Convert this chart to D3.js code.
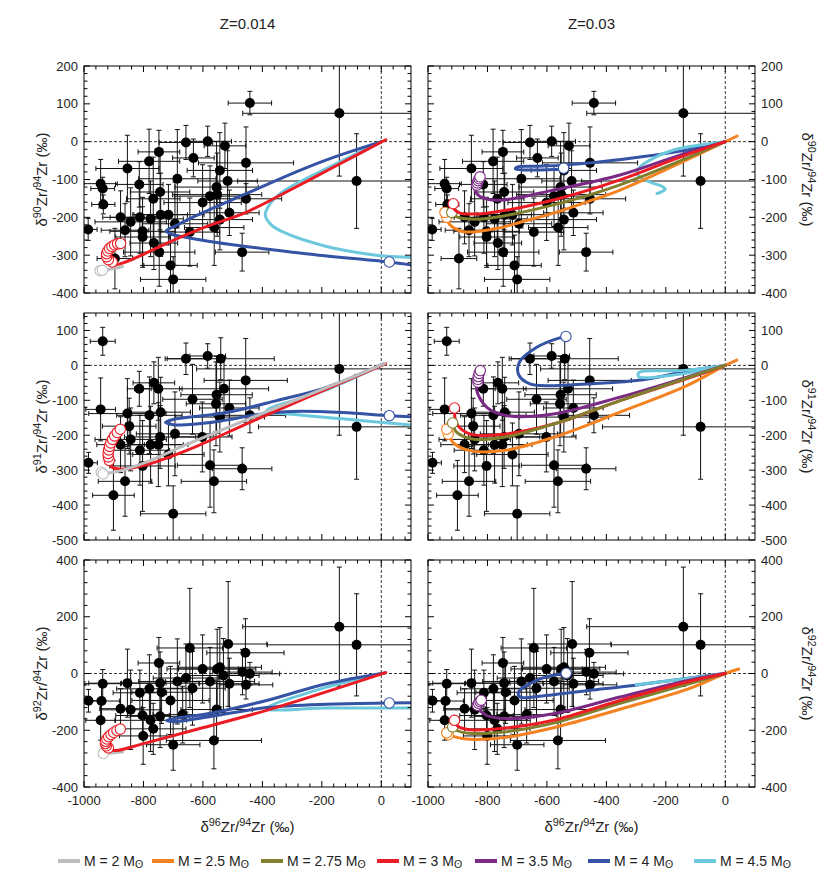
<!DOCTYPE html>
<html>
<head>
<meta charset="utf-8">
<script src="https://cdn.jsdelivr.net/npm/d3@7"></script>
<style>
  body { margin: 0; background: #fff; }
  text { font-family: 'Liberation Sans Narrow', 'Liberation Sans', Arial, sans-serif; fill: #222; }
</style>
</head>
<body>
<div id="chart"></div>
<script>
// ---------- axes ----------
const xDomain = [-1000, 100]
const xLabels = [-1000, -800, -600, -400, -200, 0]
const yDomains = [[-400, 200], [-500, 150], [-400, 400]]
const yLabels90 = [-400, -300, -200, -100, 0, 100, 200]
const yLabels91 = [-500, -400, -300, -200, -100, 0, 100]
const yLabels92 = [-400, -200, 0, 200, 400]
const titles = ['Z=0.014', 'Z=0.03']
const isotopes = ['90', '91', '92']

// ---------- grains: [x, xerr, y, yerr] ----------
const grains90 = [
  [-442, 73, 102, 31], [-141, 325, 75, 166], [-83, 400, -104, 125], [-986, 30, -232, 29],
  [-944, 56, -111, 64], [-937, 40, -124, 30], [-935, 39, -166, 25], [-854, 106, -71, 88],
  [-781, 103, -52, 85], [-748, 70, -27, 57], [-814, 80, -113, 60], [-767, 90, -151, 110],
  [-744, 100, -133, 100], [-877, 60, -200, 70], [-843, 120, -212, 90], [-812, 100, -200, 95],
  [-776, 110, -204, 100], [-742, 90, -193, 110], [-716, 120, -193, 80], [-862, 80, -234, 70],
  [-803, 110, -237, 90], [-803, 90, -252, 80], [-765, 80, -268, 70], [-747, 120, -292, 90],
  [-896, 60, -309, 80], [-709, 90, -327, 80], [-700, 110, -364, 60], [-686, 130, -98, 130],
  [-657, 90, -2, 45], [-632, 70, -43, 50], [-584, 80, 1, 40], [-526, 70, -11, 60],
  [-543, 110, -76, 100], [-554, 140, -120, 120], [-517, 100, -104, 80], [-552, 150, -140, 110],
  [-576, 120, -144, 80], [-601, 130, -161, 100], [-511, 100, -188, 60], [-543, 110, -206, 80],
  [-562, 100, -227, 100], [-455, 160, -56, 95], [-455, 120, -151, 40], [-468, 90, -292, 50],
  [-644, 100, -239, 90], [-694, 110, -217, 110]
]
const grains91 = [
  [-937, 42, 69, 40], [-985, 30, -279, 30], [-944, 50, -126, 90], [-854, 130, -138, 100],
  [-848, 90, -174, 80], [-814, 40, -67, 50], [-765, 70, -50, 60], [-750, 80, -67, 90],
  [-780, 110, -143, 110], [-742, 100, -134, 100], [-843, 120, -212, 90], [-877, 80, -227, 80],
  [-812, 100, -243, 100], [-776, 110, -227, 110], [-750, 100, -227, 120], [-744, 120, -205, 90],
  [-716, 120, -255, 90], [-694, 130, -196, 120], [-803, 110, -288, 130], [-862, 90, -332, 100],
  [-901, 70, -372, 100], [-700, 110, -425, 80], [-657, 70, 19, 45], [-584, 60, 27, 35],
  [-540, 180, 19, 60], [-635, 100, -97, 100], [-554, 120, -84, 110], [-556, 100, -110, 120],
  [-529, 150, -67, 90], [-511, 100, -122, 80], [-456, 140, -43, 120], [-442, 120, -143, 50],
  [-602, 100, -205, 100], [-576, 110, -286, 120], [-563, 110, -332, 90], [-468, 100, -296, 60],
  [-543, 150, -148, 100], [-141, 480, -10, 190], [-83, 330, -176, 150]
]
const grains92 = [
  [-985, 30, -96, 40], [-937, 60, -36, 50], [-941, 60, -97, 60], [-944, 50, -165, 70],
  [-854, 130, -34, 120], [-877, 70, -124, 70], [-843, 100, -128, 140], [-812, 90, -68, 80],
  [-780, 110, -54, 120], [-748, 70, 37, 90], [-744, 130, -34, 110], [-739, 100, -66, 110],
  [-709, 130, -95, 120], [-803, 90, -148, 80], [-776, 120, -165, 110], [-767, 110, -195, 90],
  [-801, 80, -220, 100], [-700, 90, -251, 90], [-744, 100, -151, 110], [-686, 130, -28, 150],
  [-657, 110, -16, 120], [-635, 110, -52, 130], [-644, 110, 90, 210], [-601, 120, 16, 120],
  [-576, 150, -28, 120], [-552, 130, 16, 140], [-543, 140, 22, 140], [-531, 120, -7, 130],
  [-511, 100, -36, 90], [-515, 130, 104, 220], [-457, 130, 73, 120], [-467, 100, 5, 80],
  [-442, 100, -1, 40], [-455, 90, -40, 50], [-554, 120, -127, 100], [-563, 160, -236, 100],
  [-668, 100, -145, 100], [-141, 325, 165, 210], [-83, 300, 101, 180]
]

// ---------- models, Z = 0.014 ----------
const a90Gray = [[-870, -330], [-905, -336], [-938, -340]]
const a90GrayOpen = [[-946, -341], [-938, -340]]
const a90Cyan = [[0, 0], [-161, -62], [-323, -128], [-375, -165], [-390, -195], [-370, -220], [-333, -238], [-184, -277], [-16, -300], [102, -306], [140, -308]]
const a90Blue = [[0, 0], [-184, -48], [-274, -76], [-453, -137], [-621, -195], [-688, -221], [-724, -236], [-700, -246], [-677, -250], [-565, -265], [-397, -283], [-274, -294], [-184, -302], [27, -318], [102, -326], [140, -330]]
const a90BlueOpen = [[27, -318]]
const a90Red = [[15, 5], [-150, -63], [-300, -125], [-453, -186], [-600, -228], [-720, -268], [-800, -298], [-860, -318], [-895, -325], [-910, -320], [-918, -312], [-924, -304], [-924, -296], [-920, -289], [-914, -282], [-906, -277], [-897, -273], [-887, -270], [-877, -269]]
const a90RedOpen = [[-905, -318], [-918, -312], [-924, -304], [-924, -296], [-920, -289], [-914, -282], [-906, -277], [-897, -273], [-887, -270], [-877, -269]]

const a91Gray = [[12, 6], [-130, -45], [-408, -140], [-650, -225], [-800, -280], [-879, -302], [-922, -309]]
const a91GrayOpen = [[-942, -306], [-936, -311]]
const a91Cyan = [[10, 4], [-184, -70], [-386, -130], [-300, -140], [-130, -153], [102, -171], [140, -173]]
const a91Blue = [[7, 4], [-184, -63], [-352, -101], [-520, -135], [-641, -148], [-700, -155], [-726, -163], [-700, -170], [-656, -170], [-544, -160], [-408, -140], [-298, -132], [-130, -135], [27, -144], [102, -147], [140, -148]]
const a91BlueOpen = [[27, -144]]
const a91Red = [[15, 5], [-408, -150], [-650, -242], [-800, -287], [-880, -297], [-908, -290], [-915, -272], [-918, -262], [-919, -252], [-917, -242], [-914, -232], [-910, -222], [-904, -212], [-897, -202], [-888, -192], [-878, -183]]
const a91RedOpen = [[-915, -272], [-918, -262], [-919, -252], [-917, -242], [-914, -232], [-910, -222], [-904, -212], [-897, -202], [-888, -192], [-878, -183]]

const a92Gray = [[-870, -276], [-905, -280], [-935, -282]]
const a92GrayOpen = [[-935, -282]]
const a92Cyan = [[12, 2], [-184, -48], [-386, -124], [-184, -122], [102, -122], [140, -122]]
const a92Blue = [[12, 2], [-184, -36], [-386, -95], [-565, -138], [-722, -165], [-700, -170], [-565, -150], [-386, -120], [-184, -108], [27, -104], [102, -103], [140, -103]]
const a92BlueOpen = [[27, -104]]
const a92Red = [[15, 3], [-386, -130], [-632, -200], [-800, -247], [-889, -271], [-912, -268], [-918, -262], [-925, -255], [-928, -247], [-927, -239], [-923, -231], [-917, -223], [-909, -215], [-900, -208], [-889, -201], [-878, -196]]
const a92RedOpen = [[-918, -262], [-925, -255], [-928, -247], [-927, -239], [-923, -231], [-917, -223], [-909, -215], [-900, -208], [-889, -201], [-878, -196]]

// ---------- models, Z = 0.03 ----------
const b90Blue = [[0, 0], [-150, -25], [-300, -42], [-450, -56], [-544, -62], [-640, -65], [-700, -67], [-706, -72], [-640, -75], [-544, -72]]
const b90BlueOpen = [[-544, -70]]
const b90Cyan = [[0, 0], [-174, -22], [-252, -48], [-291, -70], [-297, -84], [-281, -97], [-242, -110], [-210, -119], [-202, -126], [-213, -132], [-230, -137]]
const b90Orange = [[40, 15], [0, 0], [-354, -128], [-465, -159], [-578, -189], [-690, -213], [-760, -228], [-881, -238], [-926, -220], [-937, -204]]
const b90OrangeOpen = [[-937, -200], [-943, -187]]
const b90Olive = [[0, 0], [-354, -114], [-578, -167], [-802, -203], [-870, -204], [-905, -198], [-920, -189]]
const b90OliveOpen = [[-920, -187]]
const b90Purple = [[0, 0], [-150, -35], [-354, -88], [-578, -128], [-746, -154], [-800, -152], [-830, -142], [-842, -125], [-836, -115]]
const b90PurpleOpen = [[-836, -115], [-834, -109], [-831, -103], [-828, -98], [-825, -93]]
const b90Red = [[0, 0], [-150, -40], [-354, -101], [-578, -154], [-802, -189], [-870, -191], [-892, -189], [-910, -180], [-915, -168]]
const b90RedOpen = [[-915, -164]]

const b91Blue = [[0, 0], [-120, -15], [-283, -42], [-466, -53], [-578, -58], [-657, -53], [-696, -25], [-690, 13], [-634, 52], [-578, 73], [-536, 83]]
const b91BlueOpen = [[-536, 83]]
const b91Cyan = [[0, 0], [-150, -15], [-290, -20], [-292, -32], [-150, -25], [0, 0]]
const b91Orange = [[39, 15], [0, 0], [-129, -58], [-354, -134], [-578, -206], [-746, -244], [-859, -244], [-910, -225], [-932, -200]]
const b91OrangeOpen = [[-932, -197], [-937, -183]]
const b91Purple = [[0, 0], [-129, -34], [-354, -91], [-578, -139], [-734, -144], [-802, -120], [-836, -72], [-832, -49]]
const b91PurpleOpen = [[-832, -48], [-832, -40], [-831, -32], [-828, -23], [-824, -15]]
const b91Red = [[0, 0], [-129, -38], [-354, -101], [-578, -168], [-746, -197], [-858, -197], [-903, -168], [-911, -130]]
const b91RedOpen = [[-911, -122]]
const b91Olive = [[0, 0], [-129, -36], [-354, -101], [-578, -168], [-746, -206], [-850, -211], [-903, -192], [-917, -170]]
const b91OliveOpen = [[-917, -165]]

const b92Blue = [[2, 1], [-150, -20], [-309, -42], [-461, -60], [-632, -81], [-690, -83], [-696, -66], [-658, -36], [-603, -12], [-535, 1]]
const b92BlueOpen = [[-535, 1]]
const b92Cyan = [[0, 0], [-160, -22], [-300, -40]]
const b92Orange = [[45, 16], [0, 0], [-129, -56], [-354, -126], [-578, -191], [-746, -226], [-859, -232], [-900, -226], [-928, -215]]
const b92OrangeOpen = [[-932, -216], [-937, -209]]
const b92Olive = [[0, 0], [-354, -105], [-578, -175], [-746, -206], [-870, -210], [-905, -200], [-917, -190]]
const b92OliveOpen = [[-917, -188]]
const b92Purple = [[0, 0], [-129, -25], [-354, -83], [-578, -142], [-734, -159], [-802, -148], [-836, -118], [-834, -112]]
const b92PurpleOpen = [[-834, -112], [-830, -105], [-825, -99], [-821, -94]]
const b92Red = [[0, 0], [-129, -30], [-354, -95], [-578, -165], [-746, -193], [-858, -198], [-897, -188], [-911, -172]]
const b92RedOpen = [[-911, -165]]

// ---------- legend ----------
const massLabels = ['2', '2.5', '2.75', '3', '3.5', '4', '4.5']
const massKeys = ['gray', 'orange', 'olive', 'red', 'purple', 'blue', 'cyan']
const colors = {
  gray: '#bdbdbd', orange: '#f58220', olive: '#80802f', red: '#ec1c24',
  purple: '#7a2a84', blue: '#3553a5', cyan: '#6cc8dc'
}

// panel -> model curves, drawing order
const panelModels = [
  [['cyan', a90Cyan], ['blue', a90Blue, a90BlueOpen], ['gray', a90Gray, a90GrayOpen], ['red', a90Red, a90RedOpen]],
  [['blue', b90Blue, b90BlueOpen], ['cyan', b90Cyan], ['orange', b90Orange, b90OrangeOpen], ['olive', b90Olive, b90OliveOpen], ['purple', b90Purple, b90PurpleOpen], ['red', b90Red, b90RedOpen]],
  [['cyan', a91Cyan], ['blue', a91Blue, a91BlueOpen], ['red', a91Red, a91RedOpen], ['gray', a91Gray, a91GrayOpen]],
  [['blue', b91Blue, b91BlueOpen], ['cyan', b91Cyan], ['orange', b91Orange, b91OrangeOpen], ['purple', b91Purple, b91PurpleOpen], ['red', b91Red, b91RedOpen], ['olive', b91Olive, b91OliveOpen]],
  [['cyan', a92Cyan], ['blue', a92Blue, a92BlueOpen], ['gray', a92Gray, a92GrayOpen], ['red', a92Red, a92RedOpen]],
  [['blue', b92Blue, b92BlueOpen], ['cyan', b92Cyan], ['orange', b92Orange, b92OrangeOpen], ['olive', b92Olive, b92OliveOpen], ['purple', b92Purple, b92PurpleOpen], ['red', b92Red, b92RedOpen]]
]
const rowGrains = [grains90, grains91, grains92]
const rowLabels = [yLabels90, yLabels91, yLabels92]
const rowMinor = [20, 20, 40]

const svg = d3.select('#chart')
  .append('svg')
  .attr('width', 831)
  .attr('height', 887)

const colX = [84, 428]
const rowY = [66, 313, 560]
const pw = 327
const ph = 227

const x = d3.scaleLinear().domain(xDomain).range([0, pw])

// superscript label: δ^aZr/^94Zr (‰)
const isoText = (sel, a) => {
  sel.append('tspan').text('δ')
  sel.append('tspan').attr('dy', -6).attr('font-size', '0.72em').text(a)
  sel.append('tspan').attr('dy', 6).text('Zr/')
  sel.append('tspan').attr('dy', -6).attr('font-size', '0.72em').text('94')
  sel.append('tspan').attr('dy', 6).text('Zr (‰)')
}

titles.forEach((t, c) => {
  svg.append('text')
    .attr('x', colX[c] + pw / 2)
    .attr('y', 29)
    .attr('text-anchor', 'middle')
    .attr('font-size', 15)
    .text(t)
})

for (let r = 0; r < 3; r++) {
  const y = d3.scaleLinear().domain(yDomains[r]).range([ph, 0])
  const [y0, y1] = yDomains[r]
  const major = rowLabels[r][1] - rowLabels[r][0]

  for (let c = 0; c < 2; c++) {
    const g = svg.append('g').attr('transform', `translate(${colX[c]},${rowY[r]})`)
    const clipId = `clip${r}${c}`
    g.append('clipPath').attr('id', clipId)
      .append('rect').attr('width', pw).attr('height', ph)
    const plot = g.append('g').attr('clip-path', `url(#${clipId})`)

    // zero lines
    plot.append('line')
      .attr('x1', 0).attr('x2', pw).attr('y1', y(0)).attr('y2', y(0))
      .attr('stroke', '#000').attr('stroke-width', 0.8).attr('stroke-dasharray', '3,2')
    plot.append('line')
      .attr('x1', x(0)).attr('x2', x(0)).attr('y1', 0).attr('y2', ph)
      .attr('stroke', '#000').attr('stroke-width', 0.8).attr('stroke-dasharray', '3,2')

    // error bars
    const eb = plot.append('g').attr('stroke', '#111').attr('stroke-width', 1)
    rowGrains[r].forEach(d => {
      const [gx, xe, gy, ye] = d
      eb.append('line').attr('x1', x(gx - xe)).attr('x2', x(gx + xe)).attr('y1', y(gy)).attr('y2', y(gy))
      eb.append('line').attr('x1', x(gx)).attr('x2', x(gx)).attr('y1', y(gy - ye)).attr('y2', y(gy + ye))
      ;[gx - xe, gx + xe].forEach(v => {
        eb.append('line').attr('x1', x(v)).attr('x2', x(v)).attr('y1', y(gy) - 2.5).attr('y2', y(gy) + 2.5)
      })
      ;[gy - ye, gy + ye].forEach(v => {
        eb.append('line').attr('x1', x(gx) - 2.5).attr('x2', x(gx) + 2.5).attr('y1', y(v)).attr('y2', y(v))
      })
    })
    plot.append('g').selectAll('circle')
      .data(rowGrains[r])
      .enter()
      .append('circle')
      .attr('cx', d => x(d[0]))
      .attr('cy', d => y(d[2]))
      .attr('r', 5)
      .attr('fill', '#000')

    // models
    const line = d3.line()
      .x(d => x(d[0]))
      .y(d => y(d[1]))
      .curve(d3.curveCatmullRom.alpha(0.5))
    panelModels[r * 2 + c].forEach(([key, pts, open]) => {
      plot.append('path')
        .attr('d', line(pts))
        .attr('fill', 'none')
        .attr('stroke', colors[key])
        .attr('stroke-width', 3)
        .attr('stroke-linejoin', 'round')
        .attr('stroke-linecap', 'round')
      if (open) {
        plot.append('g').selectAll('circle')
          .data(open)
          .enter()
          .append('circle')
          .attr('cx', d => x(d[0]))
          .attr('cy', d => y(d[1]))
          .attr('r', 5.2)
          .attr('fill', '#fff')
          .attr('stroke', colors[key])
          .attr('stroke-width', 1.1)
      }
    })

    // frame + inward ticks
    g.append('rect').attr('width', pw).attr('height', ph)
      .attr('fill', 'none').attr('stroke', '#000').attr('stroke-width', 1)
    const tk = g.append('g').attr('stroke', '#000').attr('stroke-width', 1)
    d3.range(-1000, 100 + 1e-6, 40).forEach(v => {
      const len = (v % 200 === 0) ? 6 : 3.5
      tk.append('line').attr('x1', x(v)).attr('x2', x(v)).attr('y1', ph).attr('y2', ph - len)
      tk.append('line').attr('x1', x(v)).attr('x2', x(v)).attr('y1', 0).attr('y2', len)
    })
    d3.range(y0, y1 + 1e-6, rowMinor[r]).forEach(v => {
      const len = (v % major === 0) ? 6 : 3.5
      tk.append('line').attr('x1', 0).attr('x2', len).attr('y1', y(v)).attr('y2', y(v))
      tk.append('line').attr('x1', pw).attr('x2', pw - len).attr('y1', y(v)).attr('y2', y(v))
    })

    // tick labels
    rowLabels[r].forEach(v => {
      g.append('text')
        .attr('x', c === 0 ? -6 : pw + 6)
        .attr('y', y(v))
        .attr('dy', '0.35em')
        .attr('text-anchor', c === 0 ? 'end' : 'start')
        .attr('font-size', 13)
        .text(v)
    })
    if (r === 2) {
      xLabels.forEach(v => {
        g.append('text')
          .attr('x', x(v))
          .attr('y', ph + 18)
          .attr('text-anchor', 'middle')
          .attr('font-size', 13)
          .text(v)
      })
      const xt = g.append('text')
        .attr('x', pw / 2)
        .attr('y', ph + 45)
        .attr('text-anchor', 'middle')
        .attr('font-size', 15)
      isoText(xt, '96')
    }
  }

  // y axis titles
  const cy = rowY[r] + ph / 2
  const lt = svg.append('text')
    .attr('transform', `translate(47,${cy}) rotate(-90)`)
    .attr('text-anchor', 'middle')
    .attr('font-size', 15)
  isoText(lt, isotopes[r])
  const rt = svg.append('text')
    .attr('transform', `translate(802,${cy}) rotate(90)`)
    .attr('text-anchor', 'middle')
    .attr('font-size', 15)
  isoText(rt, isotopes[r])
}

// legend
const legendX = [58, 152, 261, 377, 475, 588, 694]
const leg = svg.append('g').attr('transform', 'translate(0,861)')
massKeys.forEach((k, i) => {
  leg.append('line')
    .attr('x1', legendX[i]).attr('x2', legendX[i] + 22)
    .attr('y1', 0).attr('y2', 0)
    .attr('stroke', colors[k]).attr('stroke-width', 4)
  const t = leg.append('text')
    .attr('x', legendX[i] + 26)
    .attr('y', 5)
    .attr('font-size', 14)
  t.append('tspan').text(`M = ${massLabels[i]} M`)
  t.append('tspan').attr('font-size', '0.75em').attr('dy', 2).text('ʘ')
})
</script>
</body>
</html>
